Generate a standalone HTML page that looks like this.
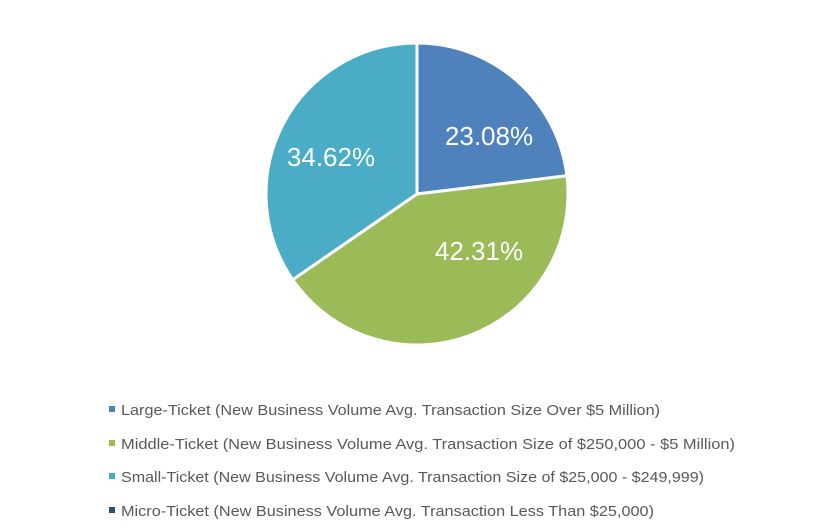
<!DOCTYPE html>
<html><head><style>body{margin:0;background:#fff}svg{display:block}</style></head>
<body>
<svg width="840" height="532" xmlns="http://www.w3.org/2000/svg" font-family="Liberation Sans, sans-serif">
<rect width="840" height="532" fill="#fff"/>
<g stroke="#fff" stroke-width="3" stroke-linejoin="round">
<path d="M417,194 L417,43 A151,151 0 0 1 566.9,175.8 Z" fill="#4f81bd"/>
<path d="M417,194 L566.9,175.8 A151,151 0 0 1 292.7,279.7 Z" fill="#9bbb59"/>
<path d="M417,194 L292.7,279.7 A151,151 0 0 1 417,43 Z" fill="#4bacc6"/>
</g>
<g fill="#fff" font-size="26" text-anchor="middle">
<text x="489" y="145">23.08%</text>
<text x="479" y="260">42.31%</text>
<text x="331" y="166">34.62%</text>
</g>
<rect x="109" y="406" width="6" height="6" fill="#4f81bd"/>
<rect x="109" y="440" width="6" height="6" fill="#9bbb59"/>
<rect x="109" y="473" width="6" height="6" fill="#4bacc6"/>
<rect x="109" y="507" width="6" height="6" fill="#2c4d75"/>
<g fill="#595959" font-size="15">
<text x="121" y="415" textLength="539" lengthAdjust="spacingAndGlyphs">Large-Ticket (New Business Volume Avg. Transaction Size Over $5 Million)</text>
<text x="121" y="449" textLength="614" lengthAdjust="spacingAndGlyphs">Middle-Ticket (New Business Volume Avg. Transaction Size of $250,000 - $5 Million)</text>
<text x="121" y="482" textLength="583" lengthAdjust="spacingAndGlyphs">Small-Ticket (New Business Volume Avg. Transaction Size of $25,000 - $249,999)</text>
<text x="121" y="516" textLength="533" lengthAdjust="spacingAndGlyphs">Micro-Ticket (New Business Volume Avg. Transaction Less Than $25,000)</text>
</g>
</svg>
</body></html>
